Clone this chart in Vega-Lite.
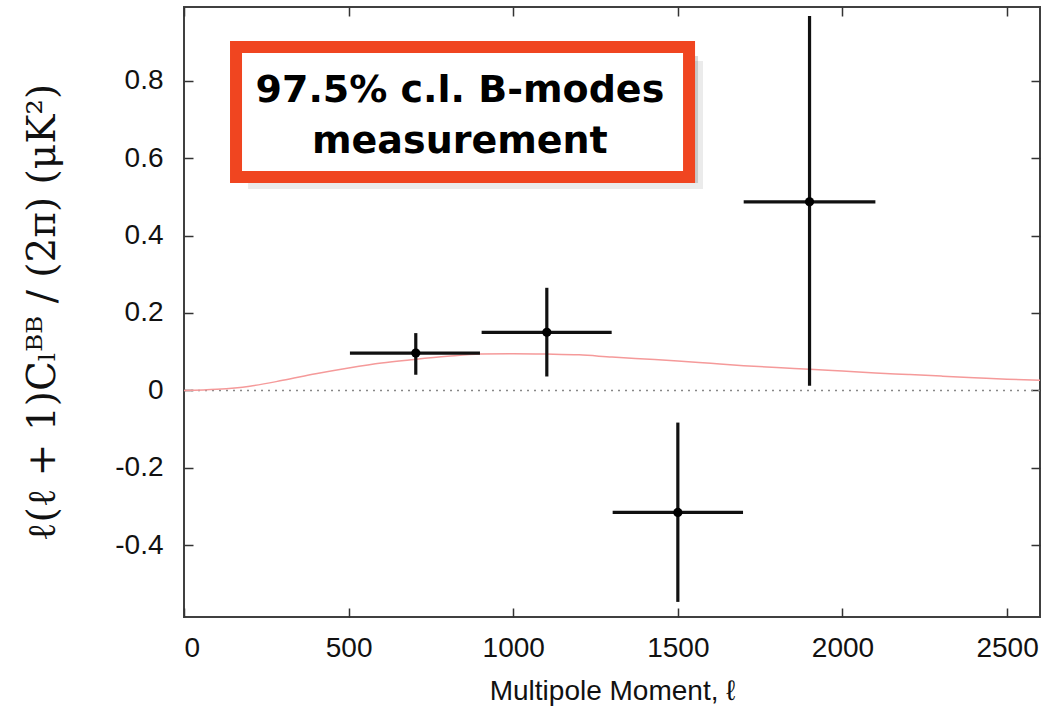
{
  "$schema": "https://vega.github.io/schema/vega-lite/v6.json",
  "width": 856,
  "height": 610,
  "autosize": {"type": "none"},
  "padding": {"left": 184, "top": 7, "right": 19, "bottom": 93},
  "background": "white",
  "config": {
    "view": {"stroke": "#404040", "strokeWidth": 2},
    "axis": {
      "domain": false,
      "grid": false,
      "zindex": 1,
      "labelFont": "Liberation Sans",
      "labelFontSize": 28,
      "labelColor": "#111111",
      "titleColor": "#111111",
      "titleFontWeight": "normal"
    }
  },
  "datasets": {
    "points": [
      {"ell": 704, "val": 0.0965, "lo": 0.0405, "hi": 0.148, "ell0": 504, "ell1": 899},
      {"ell": 1102, "val": 0.150, "lo": 0.036, "hi": 0.265, "ell0": 904, "ell1": 1299},
      {"ell": 1500, "val": -0.315, "lo": -0.546, "hi": -0.083, "ell0": 1302, "ell1": 1698},
      {"ell": 1900, "val": 0.487, "lo": 0.012, "hi": 0.967, "ell0": 1700, "ell1": 2100}
    ],
    "theory": [
      {"ell": 0, "cl": 0.0},
      {"ell": 100, "cl": 0.003},
      {"ell": 200, "cl": 0.011},
      {"ell": 300, "cl": 0.026},
      {"ell": 400, "cl": 0.043},
      {"ell": 500, "cl": 0.058},
      {"ell": 600, "cl": 0.071},
      {"ell": 700, "cl": 0.080},
      {"ell": 800, "cl": 0.088},
      {"ell": 900, "cl": 0.094},
      {"ell": 1000, "cl": 0.095},
      {"ell": 1100, "cl": 0.094},
      {"ell": 1200, "cl": 0.092},
      {"ell": 1300, "cl": 0.086},
      {"ell": 1400, "cl": 0.081},
      {"ell": 1500, "cl": 0.076},
      {"ell": 1600, "cl": 0.070},
      {"ell": 1700, "cl": 0.064},
      {"ell": 1800, "cl": 0.059},
      {"ell": 1900, "cl": 0.055},
      {"ell": 2000, "cl": 0.050},
      {"ell": 2100, "cl": 0.045},
      {"ell": 2200, "cl": 0.041},
      {"ell": 2300, "cl": 0.037},
      {"ell": 2400, "cl": 0.033},
      {"ell": 2500, "cl": 0.029},
      {"ell": 2600, "cl": 0.026}
    ],
    "zero": [{"ell0": 0, "ell1": 2600, "v": 0}],
    "box": [{"ell0": 158, "ell1": 1534, "v0": 0.551, "v1": 0.887}],
    "label": [
      {"ell": 838, "v": 0.745, "text": "97.5% c.l. B-modes"},
      {"ell": 838, "v": 0.613, "text": "measurement"}
    ]
  },
  "layer": [
    {
      "data": {"name": "zero"},
      "mark": {"type": "rule", "color": "#888888", "strokeWidth": 1.5, "strokeDash": [2, 5]},
      "encoding": {
        "x": {"field": "ell0", "type": "quantitative", "scale": {"domain": [0, 2600], "nice": false, "zero": false},
              "axis": {"orient": "bottom", "values": [0, 500, 1000, 1500, 2000, 2500], "format": "d",
                       "ticks": true, "tickSize": 9, "offset": -9, "tickColor": "#333333", "tickWidth": 1.5, "tickOpacity": 1,
                       "labelPadding": 17,
                       "title": "Multipole Moment, ℓ", "titleFont": "Liberation Sans", "titleFontSize": 28, "titlePadding": 15}},
        "x2": {"field": "ell1"},
        "y": {"field": "v", "type": "quantitative", "scale": {"domain": [-0.585, 0.99], "nice": false, "zero": false},
              "axis": {"orient": "left", "values": [-0.4, -0.2, 0, 0.2, 0.4, 0.6, 0.8],
                       "ticks": true, "tickSize": 9, "offset": -9, "tickColor": "#333333", "tickWidth": 1.5, "tickOpacity": 1,
                       "labelPadding": 21,
                       "labelExpr": "datum.value == 0 ? '0' : replace(format(datum.value, '.1f'), '−', '-')",
                       "title": "ℓ(ℓ + 1)Cₗᴮᴮ / (2π)   (μK²)", "titleFont": "DejaVu Serif", "titleFontSize": 39, "titlePadding": 52}}
      }
    },
    {
      "data": {"name": "zero"},
      "mark": {"type": "rule", "opacity": 0},
      "encoding": {
        "x": {"field": "ell0", "type": "quantitative", "scale": {"domain": [0, 2600], "nice": false, "zero": false},
              "axis": {"orient": "top", "values": [0, 500, 1000, 1500, 2000, 2500], "labels": false, "title": null,
                       "ticks": true, "tickSize": 9, "offset": -9, "tickColor": "#333333", "tickWidth": 1.5, "tickOpacity": 1}},
        "y": {"field": "v", "type": "quantitative", "scale": {"domain": [-0.585, 0.99], "nice": false, "zero": false},
              "axis": {"orient": "right", "values": [-0.4, -0.2, 0, 0.2, 0.4, 0.6, 0.8], "labels": false, "title": null,
                       "ticks": true, "tickSize": 9, "offset": -9, "tickColor": "#333333", "tickWidth": 1.5, "tickOpacity": 1}}
      }
    },
    {
      "data": {"name": "theory"},
      "mark": {"type": "line", "color": "#f59a9a", "strokeWidth": 1.5, "interpolate": "monotone"},
      "encoding": {
        "x": {"field": "ell", "type": "quantitative", "scale": {"domain": [0, 2600], "nice": false, "zero": false}, "axis": null},
        "y": {"field": "cl", "type": "quantitative", "scale": {"domain": [-0.585, 0.99], "nice": false, "zero": false}, "axis": null}
      }
    },
    {
      "data": {"name": "points"},
      "mark": {"type": "rule", "color": "#111111", "strokeWidth": 3.2},
      "encoding": {
        "x": {"field": "ell0", "type": "quantitative", "scale": {"domain": [0, 2600], "nice": false, "zero": false}, "axis": null},
        "x2": {"field": "ell1"},
        "y": {"field": "val", "type": "quantitative", "scale": {"domain": [-0.585, 0.99], "nice": false, "zero": false}, "axis": null}
      }
    },
    {
      "data": {"name": "points"},
      "mark": {"type": "rule", "color": "#111111", "strokeWidth": 3.2},
      "encoding": {
        "x": {"field": "ell", "type": "quantitative", "scale": {"domain": [0, 2600], "nice": false, "zero": false}, "axis": null},
        "y": {"field": "lo", "type": "quantitative", "scale": {"domain": [-0.585, 0.99], "nice": false, "zero": false}, "axis": null},
        "y2": {"field": "hi"}
      }
    },
    {
      "data": {"name": "points"},
      "mark": {"type": "point", "filled": true, "color": "#000000", "size": 85, "opacity": 1},
      "encoding": {
        "x": {"field": "ell", "type": "quantitative", "scale": {"domain": [0, 2600], "nice": false, "zero": false}, "axis": null},
        "y": {"field": "val", "type": "quantitative", "scale": {"domain": [-0.585, 0.99], "nice": false, "zero": false}, "axis": null}
      }
    },
    {
      "data": {"name": "box"},
      "mark": {"type": "rect", "fill": "#000000", "opacity": 0.08, "xOffset": 12, "x2Offset": 14, "yOffset": 12, "y2Offset": 14},
      "encoding": {
        "x": {"field": "ell0", "type": "quantitative", "scale": {"domain": [0, 2600], "nice": false, "zero": false}, "axis": null},
        "x2": {"field": "ell1"},
        "y": {"field": "v0", "type": "quantitative", "scale": {"domain": [-0.585, 0.99], "nice": false, "zero": false}, "axis": null},
        "y2": {"field": "v1"}
      }
    },
    {
      "data": {"name": "box"},
      "mark": {"type": "rect", "fill": "#000000", "opacity": 0.15, "xOffset": 6, "x2Offset": 9, "yOffset": 6, "y2Offset": 9},
      "encoding": {
        "x": {"field": "ell0", "type": "quantitative", "scale": {"domain": [0, 2600], "nice": false, "zero": false}, "axis": null},
        "x2": {"field": "ell1"},
        "y": {"field": "v0", "type": "quantitative", "scale": {"domain": [-0.585, 0.99], "nice": false, "zero": false}, "axis": null},
        "y2": {"field": "v1"}
      }
    },
    {
      "data": {"name": "box"},
      "mark": {"type": "rect", "fill": "white", "stroke": "#f04520", "strokeWidth": 12},
      "encoding": {
        "x": {"field": "ell0", "type": "quantitative", "scale": {"domain": [0, 2600], "nice": false, "zero": false}, "axis": null},
        "x2": {"field": "ell1"},
        "y": {"field": "v0", "type": "quantitative", "scale": {"domain": [-0.585, 0.99], "nice": false, "zero": false}, "axis": null},
        "y2": {"field": "v1"}
      }
    },
    {
      "data": {"name": "label"},
      "mark": {"type": "text", "font": "DejaVu Sans", "fontWeight": "bold", "fontSize": 38, "color": "#000000", "align": "center", "baseline": "alphabetic"},
      "encoding": {
        "x": {"field": "ell", "type": "quantitative", "scale": {"domain": [0, 2600], "nice": false, "zero": false}, "axis": null},
        "y": {"field": "v", "type": "quantitative", "scale": {"domain": [-0.585, 0.99], "nice": false, "zero": false}, "axis": null},
        "text": {"field": "text"}
      }
    }
  ],
  "resolve": {"axis": {"x": "independent", "y": "independent"}}
}
